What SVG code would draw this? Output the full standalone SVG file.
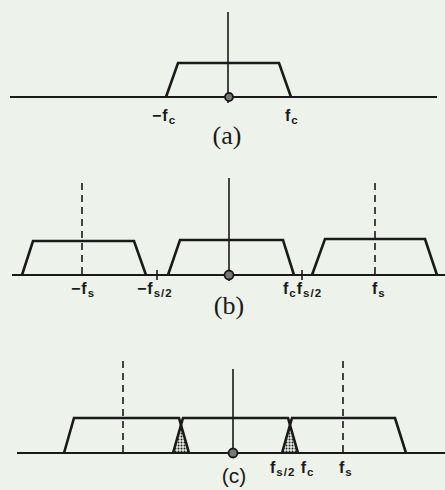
<svg xmlns="http://www.w3.org/2000/svg" width="445" height="490" viewBox="0 0 445 490">
<defs>
<pattern id="dots" width="3" height="3" patternUnits="userSpaceOnUse">
<rect width="3" height="3" fill="#e8ede4"/>
<circle cx="1.5" cy="1.5" r="1" fill="#222"/>
</pattern>
</defs>
<style>
.axis{stroke:#1a1a1a;stroke-width:2;fill:none}
.spec{stroke:#1a1a1a;stroke-width:2.6;fill:none;stroke-linejoin:miter}
.vert{stroke:#1a1a1a;stroke-width:1.6;fill:none}
.dash{stroke:#1a1a1a;stroke-width:1.6;fill:none;stroke-dasharray:7,5}
.org{fill:#777;stroke:#1a1a1a;stroke-width:1.8}
.lbl{font-family:"Liberation Sans",Arial,sans-serif;font-size:16px;fill:#1a1a1a;font-weight:bold;letter-spacing:1px}
.sub{font-size:11.5px}
.cap{font-family:"Liberation Serif","Times New Roman",serif;font-size:26px;fill:#1a1a1a}
.cap2{font-family:"Liberation Sans",Arial,sans-serif;font-size:21px;fill:#1a1a1a}
</style>
<rect width="445" height="490" fill="#edf2ea"/>

<g id="panel-a">
<line class="axis" x1="10" y1="97" x2="437" y2="97"/>
<line class="vert" x1="228" y1="12" x2="228" y2="103"/>
<polyline class="spec" points="166,97 178,63 279,63 291,97"/>
<circle class="org" cx="229" cy="97" r="4"/>
<text class="lbl" x="152" y="121">−f<tspan class="sub" dy="3">c</tspan></text>
<text class="lbl" x="285" y="121">f<tspan class="sub" dy="3">c</tspan></text>
<text class="cap" x="227" y="144" text-anchor="middle">(a)</text>
</g>

<g id="panel-b">
<line class="axis" x1="12" y1="275" x2="445" y2="275"/>
<line class="vert" x1="229" y1="178" x2="229" y2="281"/>
<polyline class="spec" points="22,275 33,241 134,241 146,275"/>
<polyline class="spec" points="168,275 180,240 283,240 294,275"/>
<polyline class="spec" points="312,275 325,239 425,239 437,275"/>
<line class="dash" x1="82" y1="183" x2="82" y2="275"/>
<line class="dash" x1="375" y1="183" x2="375" y2="275"/>
<line class="vert" x1="157" y1="270" x2="157" y2="280"/>
<line class="vert" x1="302" y1="270" x2="302" y2="280"/>
<circle class="org" cx="229" cy="275" r="4.5"/>
<text class="lbl" x="71" y="294">−f<tspan class="sub" dy="3">s</tspan></text>
<text class="lbl" x="137" y="294">−f<tspan class="sub" dy="3">s/2</tspan></text>
<text class="lbl" x="283" y="294">f<tspan class="sub" dy="3">c</tspan><tspan dy="-3">f</tspan><tspan class="sub" dy="3">s/2</tspan></text>
<text class="lbl" x="372" y="294">f<tspan class="sub" dy="3">s</tspan></text>
<text class="cap" x="229" y="314" text-anchor="middle">(b)</text>
</g>

<g id="panel-c">
<polygon points="181,425 173,453 189,453" fill="url(#dots)"/>
<polygon points="290,425 282,453 298,453" fill="url(#dots)"/>
<line class="axis" x1="17" y1="453" x2="445" y2="453"/>
<line class="vert" x1="233" y1="369" x2="233" y2="453"/>
<polyline class="spec" points="64,453 74,418 179,418 189,453"/>
<polyline class="spec" points="173,453 183,418 288,418 298,453"/>
<polyline class="spec" points="282,453 292,418 395,418 406,453"/>
<line class="dash" x1="123" y1="361" x2="123" y2="453"/>
<line class="dash" x1="343" y1="361" x2="343" y2="453"/>
<circle class="org" cx="233" cy="453" r="4.5"/>
<text class="lbl" x="270" y="473">f<tspan class="sub" dy="3">s/2</tspan><tspan dy="-3"> f</tspan><tspan class="sub" dy="3">c</tspan></text>
<text class="lbl" x="339" y="473">f<tspan class="sub" dy="3">s</tspan></text>
<text class="cap2" x="234" y="483" text-anchor="middle">(c)</text>
</g>
</svg>
